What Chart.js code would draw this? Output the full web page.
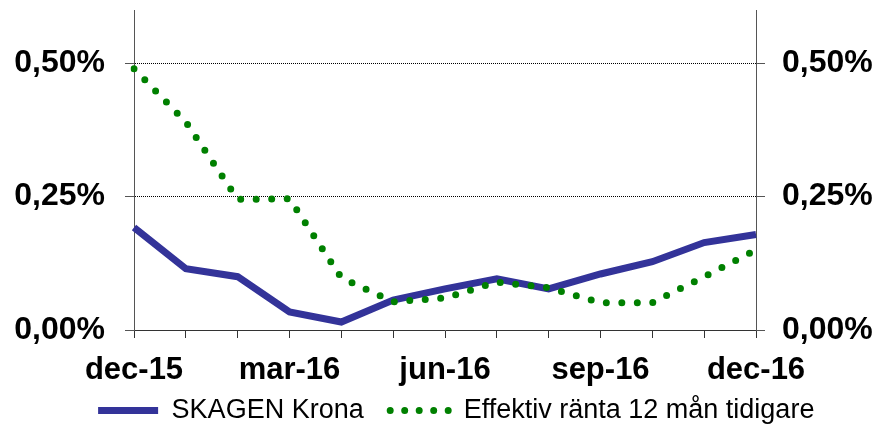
<!DOCTYPE html>
<html>
<head>
<meta charset="utf-8">
<script src="https://cdn.jsdelivr.net/npm/chart.js@4/dist/chart.umd.min.js"></script>
<style>
  html, body { margin: 0; padding: 0; background: #fff; }
  #wrap { width: 877px; height: 427px; }
</style>
</head>
<body>
<div id="wrap"><canvas id="myChart"></canvas></div>
<script>
  'use strict'

  const months = ['dec-15', 'jan-16', 'feb-16', 'mar-16', 'apr-16', 'maj-16', 'jun-16',
    'jul-16', 'aug-16', 'sep-16', 'okt-16', 'nov-16', 'dec-16']
  const skagenKrona = [0.192, 0.115, 0.100, 0.034, 0.015, 0.056, 0.077, 0.096, 0.077, 0.105, 0.128, 0.164, 0.179]
  const effektivRanta = [0.490, 0.390, 0.245, 0.246, 0.098, 0.053, 0.060, 0.090, 0.079, 0.051, 0.051, 0.100, 0.150]
  const yTicks = [0, 0.25, 0.5]

  const fontFamily = '"Liberation Sans", Arial, sans-serif'
  const pct = v => v.toFixed(2).replace('.', ',') + '%'

  const yAxis = (position, width, pad) => ({
    position,
    min: 0,
    max: 0.6,
    afterBuildTicks: s => { s.ticks = yTicks.map(v => ({ value: v })) },
    afterFit: s => { s.width = width; s.paddingTop = 0; s.paddingBottom = 0 },
    border: { display: true, color: '#555', width: 1, dash: position === 'left' ? [1, 1] : [] },
    grid: {
      display: true,
      drawOnChartArea: position === 'left',
      color: ctx => (ctx.tick && ctx.tick.value === 0 ? 'rgba(0,0,0,0)' : '#000'),
      tickColor: '#555',
      tickLength: 9
    },
    ticks: {
      padding: pad,
      color: '#000',
      font: { family: fontFamily, size: 32, weight: 'bold' },
      callback: v => pct(v)
    }
  })

  const ctx = document.getElementById('myChart')
  // eslint-disable-next-line no-unused-vars
  const myChart = new Chart(ctx, {
    type: 'line',
    data: {
      labels: months,
      datasets: [{
        label: 'SKAGEN Krona',
        data: skagenKrona,
        yAxisID: 'y',
        order: 1,
        tension: 0,
        borderColor: '#333399',
        backgroundColor: '#333399',
        borderWidth: 7,
        borderCapStyle: 'butt',
        pointRadius: 0
      },
      {
        label: 'Effektiv ränta 12 mån tidigare',
        data: effektivRanta,
        yAxisID: 'y',
        order: 0,
        tension: 0,
        borderColor: '#008000',
        backgroundColor: '#008000',
        borderWidth: 7,
        borderDash: [0, 15.5],
        borderCapStyle: 'round',
        pointRadius: 0
      }]
    },
    options: {
      responsive: true,
      maintainAspectRatio: false,
      animation: false,
      layout: { padding: { left: 0, right: -35.5, top: 10, bottom: -7 } },
      scales: {
        x: {
          offset: false,
          afterFit: s => { s.height = 63 },
          border: { display: true, color: '#333', width: 1 },
          grid: { display: true, drawOnChartArea: false, color: '#333', tickLength: 8 },
          ticks: {
            autoSkip: false,
            maxRotation: 0,
            padding: 14,
            color: '#000',
            font: { family: fontFamily, size: 31, weight: 'bold' },
            callback: (v, i) => (i % 3 === 0 ? months[i] : '')
          }
        },
        y: yAxis('left', 134, 20),
        y2: yAxis('right', 877 + 35.5 - 756, 17)
      },
      plugins: {
        legend: {
          position: 'bottom',
          labels: {
            usePointStyle: true,
            pointStyleWidth: 60,
            padding: 4,
            color: '#000',
            font: { family: fontFamily, size: 27 },
            generateLabels: chart => chart.data.datasets.map((ds, i) => ({
              text: ds.label + (i === 0 ? '   ' : ''),
              datasetIndex: i,
              strokeStyle: ds.borderColor,
              fillStyle: ds.borderColor,
              lineWidth: ds.borderWidth,
              lineDash: ds.borderDash ? [0, 14.5] : [],
              lineCap: ds.borderCapStyle,
              pointStyle: 'line',
              fontColor: '#000',
              hidden: false
            }))
          }
        },
        tooltip: { enabled: false }
      }
    }
  })
</script>
</body>
</html>
